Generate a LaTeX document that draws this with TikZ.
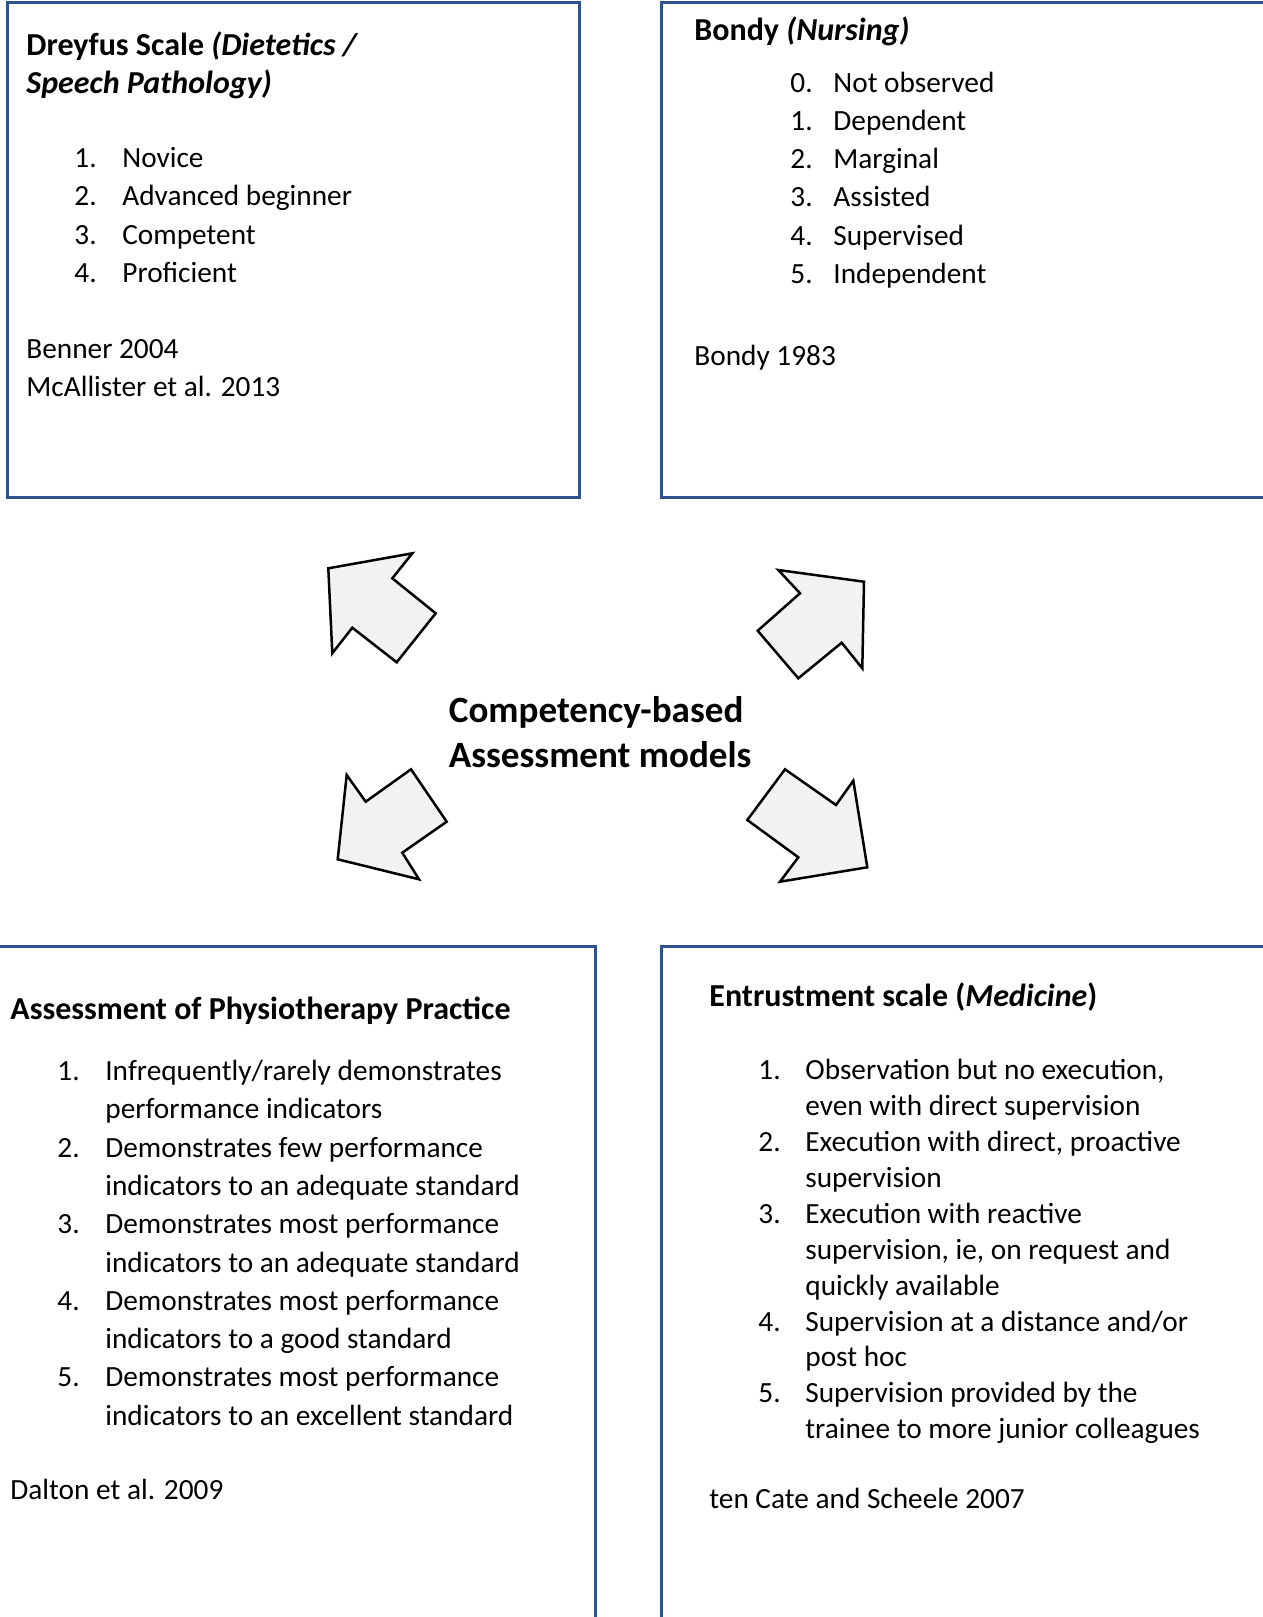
\documentclass[tikz,border=0pt]{standalone}
\usepackage{fontspec}
\setmainfont{Carlito}
\usepackage{xcolor}
\usepackage{tikz}
\definecolor{modelblue}{HTML}{2F528F}
\definecolor{modelgrey}{HTML}{F2F2F2}
\tikzset{
  modelpicture/.style={x=0.5pt, y=-0.5pt},
  modelbox/.style={draw=modelblue, line width=1.25pt, anchor=north west, inner sep=0pt},
  modeltext/.style={anchor=base west, inner sep=0pt, font=\fontsize{14.65pt}{19.15pt}\selectfont},
  modeltight/.style={modeltext, font=\fontsize{14.65pt}{17.95pt}\selectfont},
  modelhead/.style={modeltext, font=\fontsize{16pt}{19.15pt}\selectfont\bfseries},
  modelhub/.style={anchor=base west, inner sep=0pt, font=\fontsize{18.55pt}{22.7pt}\selectfont\bfseries},
  modelarrow/.style={draw=black, line width=1.25pt, fill=modelgrey, line join=miter}
}

\begin{document}
\begin{tikzpicture}[modelpicture]
\useasboundingbox (0,0) rectangle (1263,1617);
\clip (0,0) rectangle (1263,1617);
% the four scale boxes
\node[modelbox, minimum width=286pt, minimum height=247.5pt] (dreyfus) at (6,1) {};
\node[modelbox, minimum width=307.5pt, minimum height=247.5pt] (bondy) at (660,1) {};
\node[modelbox, minimum width=299.5pt, minimum height=342.5pt] (physio) at (-5,945) {};
\node[modelbox, minimum width=307.5pt, minimum height=342.5pt] (entrust) at (660,945) {};
% Dreyfus
\node[modelhead] (dreyfustitle) at (26,55) {\begin{tabular}[t]{@{}l@{}}Dreyfus Scale \textit{(Dietetics /}\\\textit{Speech Pathology)}\end{tabular}};
\node[modeltext] (dreyfuslist) at (74,167.5) {\begin{tabular}[t]{@{}p{24pt}@{}l@{}}
1. & Novice\\
2. & Advanced beginner\\
3. & Competent\\
4. & Proficient
\end{tabular}};
\node[modeltext] (dreyfuscite) at (26,358) {\begin{tabular}[t]{@{}l@{}}Benner 2004\\McAllister et al. 2013\end{tabular}};
% Bondy
\node[modelhead] (bondytitle) at (694,40) {Bondy \textit{(Nursing)}};
\node[modeltext] (bondylist) at (790,92) {\begin{tabular}[t]{@{}p{21.5pt}@{}l@{}}
0. & Not observed\\
1. & Dependent\\
2. & Marginal\\
3. & Assisted\\
4. & Supervised\\
5. & Independent
\end{tabular}};
\node[modeltext] (bondycite) at (694,365) {Bondy 1983};
% Physiotherapy
\node[modelhead] (physiotitle) at (10,1019) {Assessment of Physiotherapy Practice};
\node[modeltext] (physiolist) at (57,1080.5) {\begin{tabular}[t]{@{}p{24pt}@{}l@{}}
1. & Infrequently/rarely demonstrates\\
   & performance indicators\\
2. & Demonstrates few performance\\
   & indicators to an adequate standard\\
3. & Demonstrates most performance\\
   & indicators to an adequate standard\\
4. & Demonstrates most performance\\
   & indicators to a good standard\\
5. & Demonstrates most performance\\
   & indicators to an excellent standard
\end{tabular}};
\node[modeltext] (physiocite) at (10,1499.5) {Dalton et al. 2009};
% Entrustment
\node[modelhead] (entrusttitle) at (709,1006.5) {Entrustment scale (\textit{Medicine})};
\node[modeltight] (entrustlist) at (758,1079.7) {\begin{tabular}[t]{@{}p{23.5pt}@{}l@{}}
1. & Observation but no execution,\\
   & even with direct supervision\\
2. & Execution with direct, proactive\\
   & supervision\\
3. & Execution with reactive\\
   & supervision, ie, on request and\\
   & quickly available\\
4. & Supervision at a distance and/or\\
   & post hoc\\
5. & Supervision provided by the\\
   & trainee to more junior colleagues
\end{tabular}};
\node[modeltext] (entrustcite) at (709,1508.5) {ten Cate and Scheele 2007};
% centre and block arrows
\node[modelhub] (hub) at (448.5,722) {\begin{tabular}[t]{@{}l@{}}Competency-based\\Assessment models\end{tabular}};
\draw[modelarrow] (328.3,568.3) -- (412.3,553.3) -- (392.3,578.3) -- (435.7,613.3) -- (396.7,662.3) -- (352.3,627.7) -- (332.3,653.3) -- cycle;
\draw[modelarrow] (864,581.7) -- (778.3,570) -- (800,593.3) -- (757.7,630.7) -- (798.3,678.3) -- (841.7,642.7) -- (862.3,668.3) -- cycle;
\draw[modelarrow] (337.7,859.3) -- (346.7,775) -- (365.7,801.7) -- (411,769.3) -- (446.7,821.7) -- (402.3,852.7) -- (419,879.3) -- cycle;
\draw[modelarrow] (867.3,867.3) -- (853.3,780.7) -- (836,805) -- (785,769.3) -- (747.3,820) -- (798.3,857.3) -- (780,881.7) -- cycle;
\end{tikzpicture}
\end{document}
